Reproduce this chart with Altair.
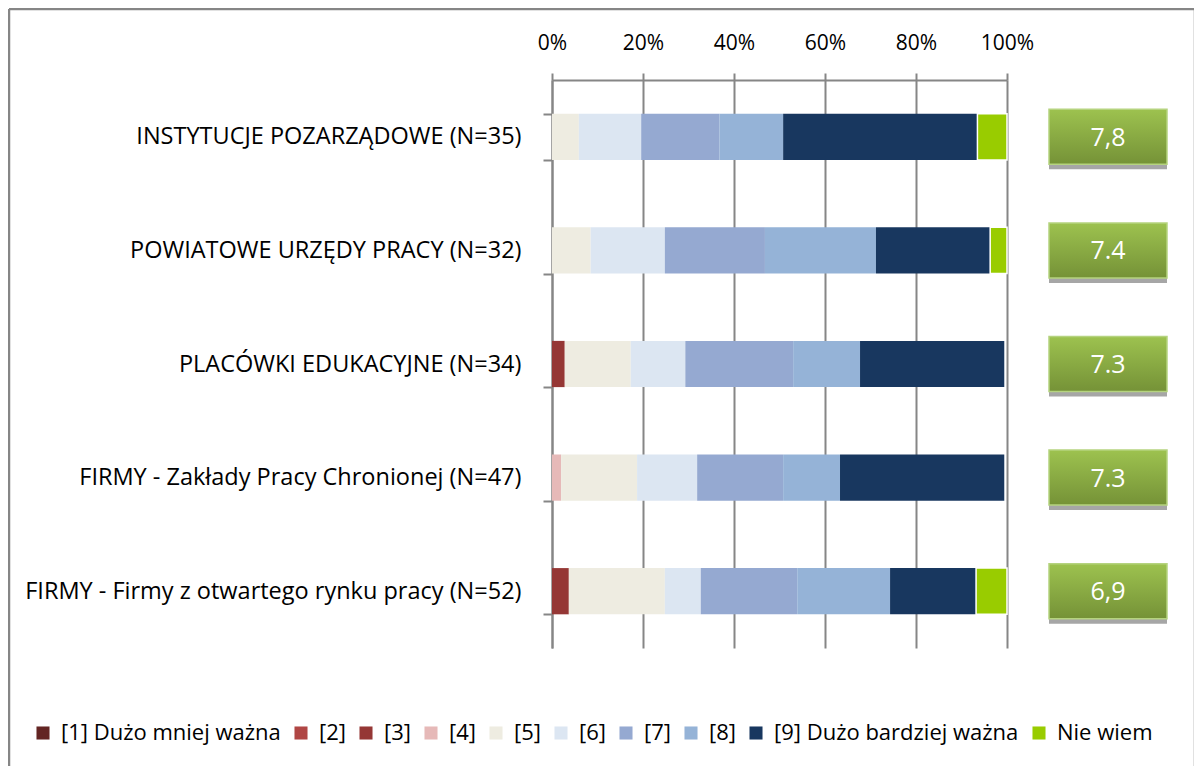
import altair as alt
import pandas as pd

categories = [
    "INSTYTUCJE POZARZĄDOWE (N=35)",
    "POWIATOWE URZĘDY PRACY (N=32)",
    "PLACÓWKI EDUKACYJNE (N=34)",
    "FIRMY - Zakłady Pracy Chronionej (N=47)",
    "FIRMY - Firmy z otwartego rynku pracy (N=52)",
]
series = ["[1] Dużo mniej ważna", "[2]", "[3]", "[4]", "[5]", "[6]", "[7]", "[8]",
          "[9] Dużo bardziej ważna", "Nie wiem"]
colors = ["#632523", "#b04644", "#953735", "#e6b9b8", "#eeece1", "#dce6f2",
          "#95a9d1", "#95b3d7", "#18375f", "#99cc00"]

v1 = [0, 0, 0, 0, 0]
v2 = [0, 0, 0, 0, 0]
v3 = [0, 0, 2.8, 0, 3.7]
v4 = [0, 0, 0, 2.0, 0]
v5 = [5.9, 8.5, 14.5, 16.7, 21.1]
v6 = [13.7, 16.3, 12.0, 13.2, 7.9]
v7 = [17.2, 22.0, 23.7, 18.9, 21.2]
v8 = [14.0, 24.4, 14.7, 12.5, 20.4]
v9 = [42.7, 25.1, 31.7, 36.1, 18.9]
v_nw = [6.5, 3.7, 0, 0, 6.8]

scores = ["7,8", "7.4", "7.3", "7.3", "6,9"]

all_vals = [v1, v2, v3, v4, v5, v6, v7, v8, v9, v_nw]
rows = []
for k, (s, vals) in enumerate(zip(series, all_vals)):
    for c, v in zip(categories, vals):
        if v > 0:
            rows.append({"cat": c, "series": s, "k": k, "pct": v})
df = pd.DataFrame(rows)
df_box = pd.DataFrame({"cat": categories, "score": scores})

FONT = "Open Sans"
GRAY = "#868686"

y_scale = alt.Scale(paddingInner=0.593, paddingOuter=0.2965)
y_axis = alt.Axis(title=None, tickBand="extent", domainColor=GRAY,
                  domainWidth=2, tickColor=GRAY, tickWidth=2, tickSize=9,
                  labelPadding=22, labelFontSize=23.5, labelFont=FONT,
                  labelColor="#000000", labelLimit=600)
y_enc = alt.Y("cat:N", sort=categories, scale=y_scale, axis=y_axis)

bars = alt.Chart(df).mark_bar(stroke="white").encode(
    x=alt.X("pct:Q", stack="zero",
            scale=alt.Scale(domain=[0, 100], nice=False),
            axis=alt.Axis(orient="top", values=[0, 20, 40, 60, 80, 100],
                          labelExpr="datum.value + '%'", title=None,
                          grid=True, gridColor=GRAY, gridWidth=2,
                          domainColor=GRAY, domainWidth=2,
                          tickColor=GRAY, tickWidth=2, tickSize=7,
                          labelFlush=False, labelOverlap=False,
                          labelPadding=20, labelFontSize=21, labelFont=FONT,
                          labelColor="#000000")),
    y=y_enc,
    color=alt.Color("series:N", scale=alt.Scale(domain=series, range=colors),
                    legend=alt.Legend(title=None, orient="none", legendX=-520, legendY=642,
                                      direction="horizontal", columns=10,
                                      symbolType="square", symbolSize=170,
                                      symbolStrokeWidth=0, labelFontSize=22,
                                      labelFont=FONT, labelColor="#000000",
                                      columnPadding=9, labelOffset=7,
                                      padding=0, labelLimit=400)),
    strokeWidth=alt.condition("datum.series == 'Nie wiem'", alt.value(1.5), alt.value(0)),
    order=alt.Order("k:Q"),
)

box_scale = alt.Scale(type="linear", domain=[0, 1], range=[497, 615])

shadow = alt.Chart(df_box).mark_bar(size=55, yOffset=5, color="#a6a6a6").encode(
    x=alt.XDatum(0, type="quantitative", scale=box_scale, axis=None),
    x2=alt.X2Datum(1),
    y=y_enc,
)
grad = alt.Gradient(
    gradient="linear",
    stops=[alt.GradientStop(color="#9dc24f", offset=0),
           alt.GradientStop(color="#759237", offset=1)],
    x1=0, x2=0, y1=0, y2=1,
)
box = alt.Chart(df_box).mark_bar(size=55, color=grad, stroke="#b5d37f", strokeWidth=1.5).encode(
    x=alt.XDatum(0, type="quantitative", scale=box_scale, axis=None),
    x2=alt.X2Datum(1),
    y=y_enc,
)
text = alt.Chart(df_box).mark_text(color="white", fontSize=25, font=FONT,
                                   baseline="middle", align="center", dy=1).encode(
    x=alt.XDatum(0.5, type="quantitative", scale=box_scale, axis=None),
    y=y_enc,
    text="score:N",
)

one = alt.Data(values=[{}])
frame_top = alt.Chart(one).mark_rule(color=GRAY, strokeWidth=2.5).encode(
    x=alt.value(-543), x2=alt.value(643), y=alt.value(-71))
frame_left = alt.Chart(one).mark_rule(color=GRAY, strokeWidth=2.5).encode(
    x=alt.value(-543), y=alt.value(-71), y2=alt.value(720))
frame_right = alt.Chart(one).mark_rule(color=GRAY, strokeWidth=2.5).encode(
    x=alt.value(643), y=alt.value(-71), y2=alt.value(720))

chart = alt.layer(bars, shadow, box, text, frame_top, frame_left, frame_right).resolve_scale(
    x="independent"
).properties(
    width=455, height=568,
    autosize=alt.AutoSizeParams(type="none"),
    padding={"left": 544, "top": 72, "right": 187, "bottom": 118},
    background="white",
).configure_view(stroke=None)

chart.save("out.html", embed_options={"renderer": "svg", "actions": False})
